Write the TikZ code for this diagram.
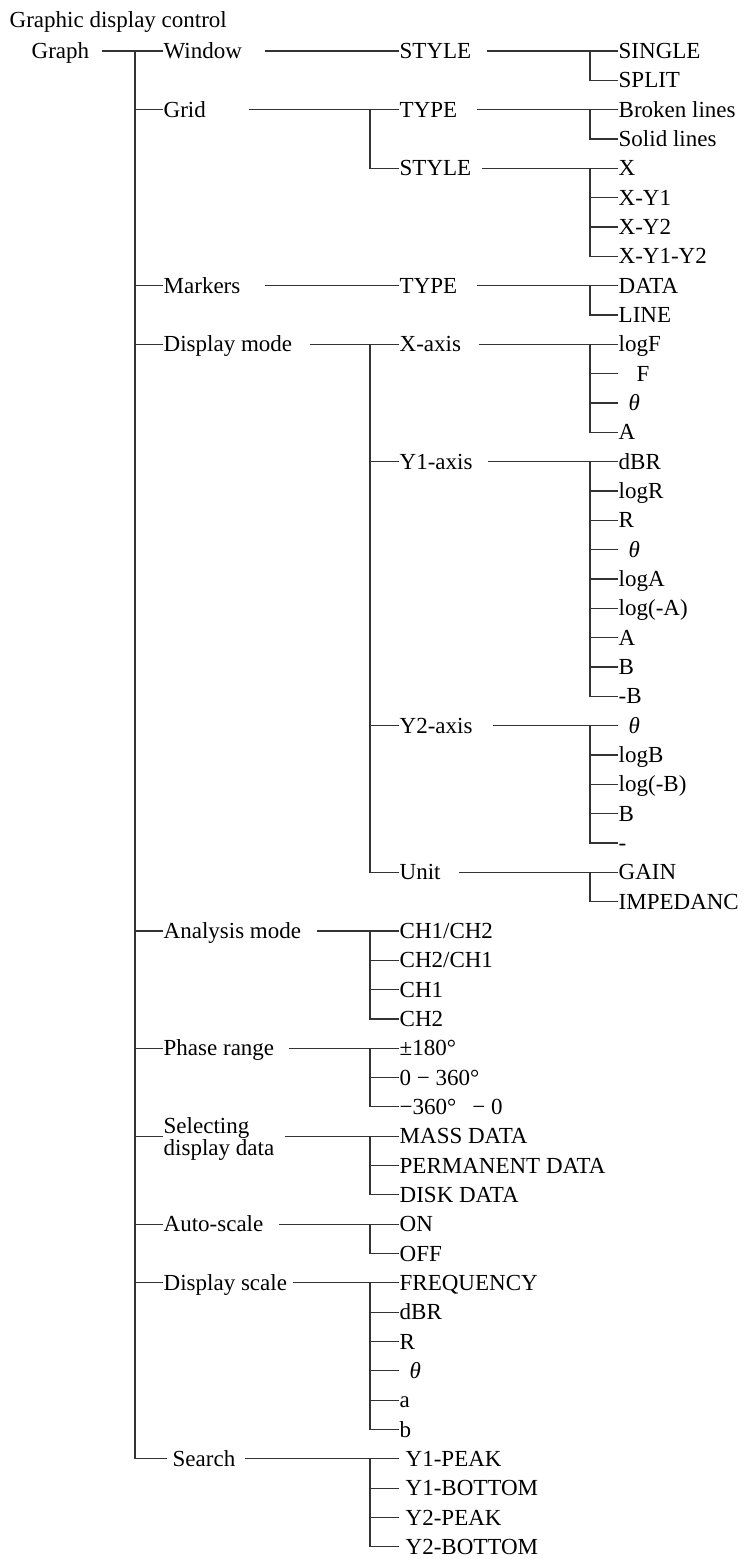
\documentclass[tikz,border=0pt]{standalone}
\usepackage{fontspec}
\setmainfont{Liberation Serif}

% row height of the menu tree
\newcommand{\rowy}[1]{51+29.33*(#1-1)}

\begin{document}
\begin{tikzpicture}[
        x=1pt, y=-1pt,
        txt/.style={anchor=west, inner xsep=0.5pt, inner ysep=0pt, font=\fontsize{23}{22}\selectfont},
        lab/.style={txt, text height=15pt, text depth=0pt},
        link/.style={draw=black!80, line width=1.2pt}
    ]

        \useasboundingbox (0,0) rectangle (744,1559);

        % Title and root
        \node[lab] (title) at (9,20) {Graphic display control};
        \node[lab] (graph) at (31,{\rowy{1}}) {Graph};
        \coordinate (bus) at (135,{\rowy{1}});

        % First level
        \node[lab] (win)    at (163,{\rowy{1}})  {Window};
        \node[lab] (grid)   at (163,{\rowy{3}})  {Grid};
        \node[lab] (mark)   at (163,{\rowy{9}})  {Markers};
        \node[lab] (dmode)  at (163,{\rowy{11}}) {Display mode};
        \node[lab] (amode)  at (163,{\rowy{31}}) {Analysis mode};
        \node[lab] (phase)  at (163,{\rowy{35}}) {Phase range};
        \node[txt, align=left] (sel) at (163,{\rowy{38}+3}) {Selecting\\display data};
        \node[lab] (auto)   at (163,{\rowy{41}}) {Auto-scale};
        \node[lab] (dscale) at (163,{\rowy{43}}) {Display scale};
        \node[lab] (search) at (172,{\rowy{49}}) {Search};

        \draw[link] ([xshift=12pt]graph.east) -- (win.west);
        \foreach \c in {grid,mark,dmode,amode,phase,auto,dscale}
            \draw[link] (bus) |- (\c.west);
        \draw[link] (bus) |- ([yshift=3pt]sel.west);
        \draw[link] (bus) |- ([xshift=-5pt]search.west);

        % Second level
        \node[lab] (wsty)  at (399,{\rowy{1}})  {STYLE};
        \node[lab] (gtype) at (399,{\rowy{3}})  {TYPE};
        \node[lab] (gsty)  at (399,{\rowy{5}})  {STYLE};
        \node[lab] (mtype) at (399,{\rowy{9}})  {TYPE};
        \node[lab] (xax)   at (399,{\rowy{11}}) {X-axis};
        \node[lab] (y1ax)  at (399,{\rowy{15}}) {Y1-axis};
        \node[lab] (y2ax)  at (399,{\rowy{24}}) {Y2-axis};
        \node[lab] (unit)  at (399,{\rowy{29}}) {Unit};

        \draw[link] ([xshift=22pt]win.east) -- (wsty.west);
        \draw[link] ([xshift=24pt]mark.east) -- (mtype.west);
        \coordinate (gbus) at (370,{\rowy{3}});
        \draw[link] ([xshift=42pt]grid.east) -- (gtype.west);
        \draw[link] (gbus) |- (gsty.west);
        \coordinate (dbus) at (370,{\rowy{11}});
        \draw[link] ([xshift=17pt]dmode.east) -- (xax.west);
        \foreach \c in {y1ax,y2ax,unit}
            \draw[link] (dbus) |- (\c.west);

        % Third level, buses at x=590
        \foreach \p/\g/\r in {wsty/15/1, gtype/19/3, gsty/10/5, mtype/19/9,
                xax/17/11, y1ax/15/15, y2ax/20/24, unit/18/29} {
            \coordinate (\p bus) at (590,{\rowy{\r}});
            \draw[link] ([xshift=\g pt]\p.east) -- (\p bus);
        }
        \foreach \p/\n/\r/\t in {
                wsty/single/1/SINGLE, wsty/split/2/SPLIT,
                gtype/broken/3/Broken lines, gtype/solid/4/Solid lines,
                gsty/sx/5/X, gsty/sxy/6/X-Y1, gsty/sxyy/7/X-Y2, gsty/sxyyy/8/X-Y1-Y2,
                mtype/data/9/DATA, mtype/line/10/LINE,
                xax/xlogf/11/logF, xax/xf/12/\hspace{18pt}F, xax/xth/13/\hspace{10pt}\textit{θ}, xax/xa/14/A,
                y1ax/adbr/15/dBR, y1ax/alogr/16/logR, y1ax/ar/17/R, y1ax/ath/18/\hspace{10pt}\textit{θ},
                y1ax/aloga/19/logA, y1ax/alogma/20/log(-A), y1ax/aa/21/A, y1ax/ab/22/B, y1ax/amb/23/-B,
                y2ax/bth/24/\hspace{10pt}\textit{θ}, y2ax/blogb/25/logB, y2ax/blogmb/26/log(-B),
                y2ax/bb/27/B, y2ax/bm/28/-,
                unit/gain/29/GAIN, unit/imp/30/IMPEDANC} {
            \node[lab] (\n) at (618,{\rowy{\r}}) {\t};
            \draw[link] (\p bus) |- (\n.west);
        }

        % Leaves of the lower groups, buses at x=370
        \foreach \p/\g/\r in {amode/15/31, phase/14/35, auto/15/41,
                dscale/5/43, search/9/49} {
            \coordinate (\p bus) at (370,{\rowy{\r}});
            \draw[link] ([xshift=\g pt]\p.east) -- (\p bus);
        }
        \coordinate (selbus) at (370,{\rowy{38}});
        \draw[link] ([xshift=10pt,yshift=3pt]sel.east) -- (selbus);
        \foreach \p/\n/\r/\t in {
                amode/ch12/31/{CH1/CH2}, amode/ch21/32/{CH2/CH1}, amode/cha/33/CH1, amode/chb/34/CH2,
                phase/pa/35/±180°, phase/pb/36/0 − 360°, phase/pc/37/−360°\hspace{16pt}− 0,
                sel/mass/38/MASS DATA, sel/perm/39/PERMANENT DATA, sel/disk/40/DISK DATA,
                auto/on/41/ON, auto/off/42/OFF,
                dscale/freq/43/FREQUENCY, dscale/sdbr/44/dBR, dscale/sr/45/R,
                dscale/sth/46/\hspace{10pt}\textit{θ}, dscale/sa/47/a, dscale/sb/48/b,
                search/ypa/49/\hspace{6pt}Y1-PEAK, search/yba/50/\hspace{6pt}Y1-BOTTOM,
                search/ypb/51/\hspace{6pt}Y2-PEAK, search/ybb/52/\hspace{6pt}Y2-BOTTOM} {
            \node[lab] (\n) at (399,{\rowy{\r}}) {\t};
            \draw[link] (\p bus) |- (\n.west);
        }

    \end{tikzpicture}
\end{document}
